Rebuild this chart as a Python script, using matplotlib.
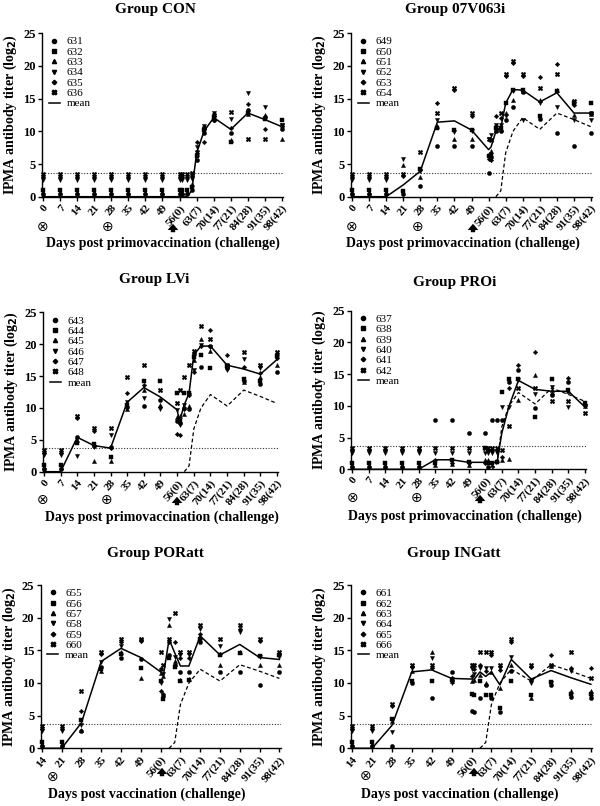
import matplotlib
matplotlib.use("Agg")
import matplotlib.pyplot as plt
from matplotlib.lines import Line2D
from matplotlib.patches import FancyArrowPatch

plt.rcParams['font.family'] = ['Liberation Serif', 'DejaVu Serif']
plt.rcParams['font.weight'] = 'bold'

# ---------------- data ----------------
DAYS_PRIMO = [0, 7, 14, 21, 28, 35, 42, 49, 56, 57, 59, 61, 63, 66, 70, 77, 84, 91, 98]
DAYS_ATT = [14, 21, 28, 35, 42, 49, 56, 57, 59, 61, 63, 66, 70, 77, 84, 91, 98]
TICKS_PRIMO = [0, 7, 14, 21, 28, 35, 42, 49, 56, 63, 70, 77, 84, 91, 98]
TICKLABELS_PRIMO = ["0", "7", "14", "21", "28", "35", "42", "49", "56(0)", "63(7)",
                    "70(14)", "77(21)", "84(28)", "91(35)", "98(42)"]
TICKS_ATT = [14, 21, 28, 35, 42, 49, 56, 63, 70, 77, 84, 91, 98]
TICKLABELS_ATT = ["14", "21", "28", "35", "42", "49", "56(0)", "63(7)",
                  "70(14)", "77(21)", "84(28)", "91(35)", "98(42)"]
CUTOFF = 3.7

# per sampling day: values of the 6 animals (legend order)
CON_IDS = ["631", "632", "633", "634", "635", "636"]
CON_TITERS = [
    [0.4, 1.0, 0.7, 2.6, 3.0, 3.4], [0.4, 1.0, 0.7, 2.6, 3.0, 3.4],
    [0.4, 1.0, 0.7, 2.6, 3.0, 3.4], [0.4, 1.0, 0.7, 2.6, 3.0, 3.4],
    [0.4, 1.0, 0.7, 2.6, 3.0, 3.4], [0.4, 1.0, 0.7, 2.6, 3.0, 3.4],
    [0.4, 1.0, 0.7, 2.6, 3.0, 3.4], [0.4, 1.0, 0.7, 2.6, 3.0, 3.4],
    [0.4, 1.0, 0.7, 2.6, 3.0, 3.4], [0.4, 1.0, 0.7, 2.6, 3.0, 3.4],
    [0.4, 1.0, 0.7, 2.6, 3.0, 3.4], [1.0, 1.5, 2.0, 2.7, 3.2, 3.6],
    [5.6, 6.2, 6.6, 7.6, 8.4, 6.9], [9.8, 10.2, 10.6, 10.8, 8.3, 10.5],
    [11.8, 12.2, 12.6, 12.8, 11.7, 12.5], [9.7, 8.4, 8.6, 11.9, 10.5, 12.9],
    [13.3, 12.8, 12.6, 15.8, 14.2, 8.8], [12.2, 11.9, 12.5, 13.7, 10.4, 8.8],
    [10.3, 11.8, 8.8, 11.0, 10.8, 11.0],
]
CON_MEAN = [0, 0, 0, 0, 0, 0, 0, 0, 0, 0, 0, 0.9, 6.7, 10.0, 12.1, 10.3, 12.8, 11.8, 10.7]

V07_IDS = ["649", "650", "651", "652", "653", "654"]
V07_TITERS = [
    [0.4, 1.0, 0.7, 2.6, 3.0, 3.4], [0.4, 1.0, 0.7, 2.6, 3.0, 3.4],
    [0.4, 1.0, 0.7, 2.6, 3.0, 3.4], [0.4, 0.9, 4.8, 5.8, 3.1, 3.4],
    [1.7, 4.3, 3.0, 4.0, 4.1, 6.8], [7.7, 10.5, 10.8, 11.8, 14.3, 12.8],
    [7.7, 10.2, 8.8, 9.9, 16.4, 16.7], [7.7, 10.2, 8.9, 10.0, 12.4, 12.8],
    [3.7, 6.3, 6.6, 8.8, 5.8, 8.9], [6.0, 6.4, 7.0, 9.4, 5.6, 8.7],
    [10.0, 10.5, 10.2, 10.9, 12.3, 10.6], [10.0, 10.5, 10.3, 10.9, 12.0, 12.8],
    [11.8, 14.3, 12.8, 12.3, 18.4, 18.8], [13.7, 16.4, 14.8, 16.2, 20.5, 20.8],
    [16.0, 16.4, 16.2, 11.8, 18.4, 18.8], [11.9, 12.3, 14.8, 14.3, 18.3, 16.7],
    [9.7, 16.2, 16.4, 13.7, 20.3, 18.8], [7.7, 14.3, 12.5, 11.8, 14.0, 14.7],
    [9.7, 14.3, 12.6, 11.8, 12.8, 12.8],
]
V07_MEAN = [0, 0, 0, 1.8, 3.9, 11.4, 11.6, 10.2, 7.2, 7.6, 10.0, 10.5, 14.3, 16.4, 16.3,
            14.5, 15.9, 12.8, 12.8]

LVI_IDS = ["643", "644", "645", "646", "647", "648"]
LVI_TITERS = [
    [0.4, 1.0, 0.7, 2.6, 3.0, 3.4], [0.4, 1.0, 0.7, 2.6, 3.0, 3.4],
    [5.5, 4.5, 4.9, 2.5, 8.4, 8.8], [4.0, 4.3, 1.6, 3.9, 6.4, 6.8],
    [3.9, 2.3, 1.6, 5.8, 3.7, 6.8], [10.1, 10.5, 9.9, 11.0, 12.3, 14.8],
    [10.3, 14.2, 12.8, 11.6, 13.6, 16.8], [11.2, 14.2, 10.5, 9.9, 10.2, 12.8],
    [8.0, 12.3, 8.6, 9.6, 5.9, 10.8], [7.6, 7.9, 8.8, 7.3, 5.7, 12.8],
    [10.0, 12.3, 9.0, 10.5, 9.8, 14.8], [9.8, 12.4, 10.3, 12.0, 12.0, 16.8],
    [18.5, 18.0, 17.5, 16.0, 15.7, 18.9], [16.4, 18.3, 20.8, 19.8, 19.7, 22.8],
    [19.7, 16.3, 19.0, 19.5, 22.3, 20.8], [16.2, 16.5, 16.8, 16.0, 18.3, 16.7],
    [14.2, 14.5, 14.0, 17.7, 16.4, 18.8], [13.7, 14.2, 14.8, 16.3, 15.5, 16.7],
    [15.7, 18.2, 16.8, 18.0, 17.8, 18.8],
]
LVI_MEAN = [0, 0, 5.4, 4.1, 3.7, 10.9, 13.2, 11.7, 9.7, 7.9, 10.5, 12.3, 18.3, 19.7, 19.7,
            16.7, 16.1, 15.3, 17.6]

PRO_IDS = ["637", "638", "639", "640", "641", "642"]
PRO_TITERS = [
    [0.4, 1.0, 0.7, 2.6, 3.0, 3.4], [0.4, 1.0, 0.7, 2.6, 3.0, 3.4],
    [0.4, 1.0, 0.7, 2.6, 3.0, 3.4], [0.4, 1.0, 0.7, 2.6, 3.0, 3.4],
    [0.4, 1.0, 0.7, 2.6, 3.0, 3.4], [7.7, 1.0, 0.7, 2.6, 1.5, 3.4],
    [7.7, 1.4, 0.8, 2.6, 1.0, 3.4], [5.7, 1.2, 0.7, 2.6, 1.0, 3.4],
    [5.7, 3.3, 1.5, 2.6, 1.0, 3.4], [0.4, 1.0, 1.5, 2.6, 3.0, 3.4],
    [7.7, 1.0, 0.7, 2.6, 3.0, 3.4], [7.7, 1.2, 1.5, 2.6, 3.0, 3.4],
    [7.7, 12.2, 1.5, 9.8, 2.0, 3.0], [13.8, 14.3, 1.6, 9.8, 12.8, 6.8],
    [15.7, 14.2, 10.9, 14.0, 16.5, 12.8], [9.7, 8.3, 14.8, 11.8, 18.5, 12.8],
    [11.7, 14.3, 12.5, 12.9, 11.9, 10.8], [13.8, 12.5, 12.3, 9.8, 14.4, 10.8],
    [10.2, 10.4, 9.9, 10.0, 10.1, 8.8],
]
PRO_MEAN = [0, 0, 0, 0, 0, 1.5, 1.5, 1.1, 1.1, 1.1, 1.1, 1.1, 5.7, 9.9, 14.0, 12.6, 12.3,
            12.3, 9.8]

POR_IDS = ["655", "656", "657", "658", "659", "660"]
POR_TITERS = [
    [0.4, 1.0, 0.7, 2.6, 3.0, 3.4], [0.4, 1.0, 0.7, 2.6, 3.0, 3.4],
    [2.6, 4.3, 2.8, 3.5, 5.7, 8.8], [12.4, 12.2, 11.8, 13.2, 14.5, 14.8],
    [13.8, 14.4, 14.8, 15.7, 16.3, 16.8], [13.7, 12.3, 10.8, 16.5, 16.4, 16.8],
    [12.2, 10.3, 11.5, 10.0, 8.8, 14.8], [8.0, 7.6, 11.0, 11.3, 8.3, 12.8],
    [14.3, 13.8, 18.8, 19.8, 16.3, 16.7], [12.8, 12.5, 13.3, 14.0, 16.3, 20.7],
    [11.7, 10.3, 10.5, 14.3, 13.9, 14.8], [11.7, 10.4, 10.6, 14.3, 13.8, 14.8],
    [16.2, 16.8, 17.0, 18.3, 17.5, 18.8], [11.7, 14.3, 12.8, 15.7, 14.4, 16.8],
    [11.7, 14.6, 14.8, 17.8, 18.3, 18.8], [9.7, 14.2, 12.8, 14.0, 16.4, 16.8],
    [11.7, 14.3, 12.8, 14.0, 14.5, 14.7],
]
POR_MEAN = [0, 0, 3.9, 13.3, 15.3, 13.9, 11.7, 11.2, 16.7, 14.6, 12.6, 12.6, 17.2, 14.3,
            15.9, 13.9, 13.6]

ING_IDS = ["661", "662", "663", "664", "665", "666"]
ING_TITERS = [
    [0.4, 1.0, 0.7, 2.6, 3.0, 3.4], [0.4, 1.0, 0.7, 2.6, 3.0, 3.4],
    [0.4, 4.5, 4.2, 2.5, 6.4, 6.8], [10.0, 10.3, 11.8, 12.3, 12.5, 12.8],
    [7.7, 10.3, 14.8, 13.8, 12.3, 12.8], [11.7, 10.5, 10.3, 10.0, 10.8, 10.6],
    [5.7, 8.3, 10.3, 12.2, 11.0, 12.8], [5.6, 8.2, 10.5, 11.3, 12.2, 12.8],
    [7.7, 10.3, 11.2, 12.3, 12.8, 14.8], [9.7, 8.2, 10.0, 12.3, 11.8, 14.7],
    [7.7, 8.2, 11.7, 12.3, 14.3, 14.7], [5.6, 6.2, 9.2, 12.3, 12.0, 12.8],
    [11.8, 10.3, 12.8, 14.0, 16.3, 16.8], [10.4, 8.2, 7.7, 10.0, 12.4, 12.8],
    [9.7, 10.2, 12.6, 10.0, 14.3, 12.8], [7.8, 8.3, 8.7, 11.8, 12.3, 14.8],
    [7.7, 8.3, 8.7, 7.9, 12.3, 10.8],
]
ING_MEAN = [0, 0, 3.5, 11.7, 12.0, 10.7, 10.6, 10.6, 11.7, 11.0, 11.7, 9.7, 13.6, 10.6,
            11.9, 10.8, 9.8]

# ---------------- style ----------------
MARKERS = ['o', 's', '^', 'v', 'D', 'X']
MSIZES = [3.0, 2.8, 3.0, 3.0, 2.3, 3.4]
W, H = 600, 806

fig = plt.figure(figsize=(W / 100, H / 100), dpi=100)


def fx(x):
    return x / W


def fy(y):
    return 1 - y / H


panels = [
    ("Group CON", CON_IDS, DAYS_PRIMO, CON_TITERS, CON_MEAN, False,
     (42, 283, 196.7, 33.3), TICKS_PRIMO, TICKLABELS_PRIMO,
     "Days post primovaccination (challenge)"),
    ("Group 07V063i", V07_IDS, DAYS_PRIMO, V07_TITERS, V07_MEAN, True,
     (351, 592, 196.7, 33.3), TICKS_PRIMO, TICKLABELS_PRIMO,
     "Days post primovaccination (challenge)"),
    ("Group LVi", LVI_IDS, DAYS_PRIMO, LVI_TITERS, LVI_MEAN, True,
     (43, 278, 471.7, 312.3), TICKS_PRIMO, TICKLABELS_PRIMO,
     "Days post primovaccination (challenge)"),
    ("Group PROi", PRO_IDS, DAYS_PRIMO, PRO_TITERS, PRO_MEAN, True,
     (351, 586, 469.3, 310.7), TICKS_PRIMO, TICKLABELS_PRIMO,
     "Days post primovaccination (challenge)"),
    ("Group PORatt", POR_IDS, DAYS_ATT, POR_TITERS, POR_MEAN, True,
     (40.7, 280.5, 748.3, 585), TICKS_ATT, TICKLABELS_ATT,
     "Days post vaccination (challenge)"),
    ("Group INGatt", ING_IDS, DAYS_ATT, ING_TITERS, ING_MEAN, True,
     (351, 592, 748.3, 585), TICKS_ATT, TICKLABELS_ATT,
     "Days post vaccination (challenge)"),
]

# annotation positions (pixels): title, xlabel, circle-x, circle-plus, arrow
annots = [
    ((155, 9), (163, 243), (43, 227), (108, 227), (173, 227)),
    ((455, 9), (463, 243), (352, 227), (418, 227), (473, 227)),
    ((154, 279), (162, 517), (43, 500), (107, 500), (177, 500)),
    ((455, 283), (465, 516), (353, 498), (417, 498), (480, 498)),
    ((155, 554), (147, 794), (53, 777), None, (162, 771)),
    ((454, 554), (460, 794), (366, 776), None, (474, 771)),
]

ref_start = CON_MEAN.index(0.9) - 1
ref_days = DAYS_PRIMO[ref_start:]
ref_vals = CON_MEAN[ref_start:]

for (title, ids, days, titers, mean, ref, box, ticks, tlabels, xlabel), ann in zip(panels, annots):
    left, right, y0, y25 = box
    ax = fig.add_axes([fx(left), fy(y0), fx(right - left), (y0 - y25) / H])
    ax.set_xlim(days[0] - 0.4, 98.4)
    ax.set_ylim(0, 25)
    for s in ['top', 'right']:
        ax.spines[s].set_visible(False)
    for s in ['left', 'bottom']:
        ax.spines[s].set_linewidth(1.0)
    ax.axhline(CUTOFF, color='#333333', lw=0.8, ls=(0, (1, 1.5)), zorder=1)
    for k in range(6):
        vals = [row[k] for row in titers]
        ax.plot(days, vals, ls='none', marker=MARKERS[k], ms=MSIZES[k], color='black',
                mec='black', mew=0.3, clip_on=False, zorder=3)
    ax.plot(days, mean, color='black', lw=1.1, zorder=4, clip_on=False)
    if ref:
        ax.plot(ref_days, ref_vals, color='black', lw=0.9, ls=(0, (3, 2)), zorder=2)
    ax.set_xticks(ticks)
    ax.set_xticklabels(tlabels, rotation=50, ha='right', rotation_mode='anchor',
                       fontsize=8, fontweight='bold')
    ax.set_yticks([0, 5, 10, 15, 20, 25])
    ax.set_yticklabels(["0", "5", "10", "15", "20", "25"], fontsize=9, fontweight='bold')
    ax.tick_params(axis='both', direction='out', length=3, width=1, pad=1.5)
    ax.set_ylabel("IPMA antibody titer (log$_\\mathbf{2}$)", fontsize=10, fontweight='bold',
                  labelpad=3)
    handles = [Line2D([], [], ls='none', marker=MARKERS[k], ms=MSIZES[k], color='black')
               for k in range(6)]
    handles.append(Line2D([], [], color='black', lw=1.1))
    ax.legend(handles, ids + ["mean"], loc='upper left', bbox_to_anchor=(0.0, 1.02),
              frameon=False, handlelength=1.0, handletextpad=0.6,
              labelspacing=0.05, borderaxespad=0.2,
              prop={'family': 'Liberation Serif', 'weight': 'normal', 'size': 8})

    tpos, xpos, cx, cp, arr = ann
    fig.text(fx(tpos[0]), fy(tpos[1]), title, ha='center', va='center', fontsize=11,
             fontweight='bold')
    fig.text(fx(xpos[0]), fy(xpos[1]), xlabel, ha='center', va='center', fontsize=10,
             fontweight='bold')
    fig.text(fx(cx[0]), fy(cx[1]), "\u2297", ha='center', va='center', fontsize=10,
             family='DejaVu Sans', fontweight='normal')
    if cp is not None:
        fig.text(fx(cp[0]), fy(cp[1]), "\u2295", ha='center', va='center', fontsize=10,
                 family='DejaVu Sans', fontweight='normal')
    fig.add_artist(FancyArrowPatch(
        (fx(arr[0]), fy(arr[1] + 8)), (fx(arr[0]), fy(arr[1] - 6)),
        transform=fig.transFigure,
        arrowstyle='simple,head_width=0.85,head_length=0.5,tail_width=0.35',
        mutation_scale=9, lw=0, color='black'))

fig.savefig("out.png", dpi=100)
